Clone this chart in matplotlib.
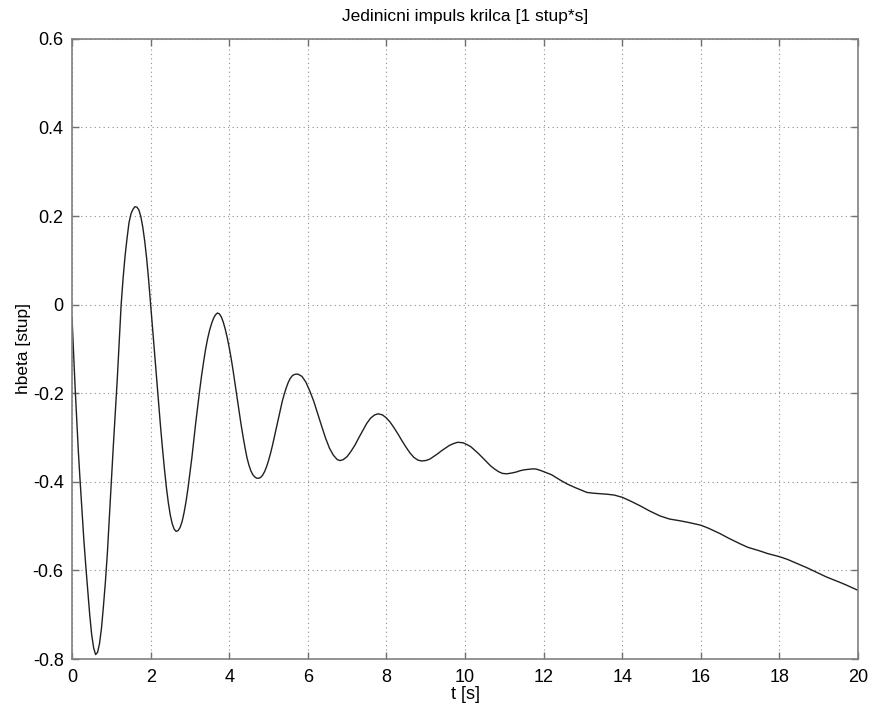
import numpy as np
import matplotlib
matplotlib.use('Agg')
import matplotlib.pyplot as plt

# vrijeme [s] i odziv hbeta [stup], ocitano sa slike
t = [0.00, 0.04, 0.08, 0.12, 0.16, 0.20, 0.25, 0.30, 0.35, 0.40, 0.45, 0.50, 0.55, 0.60, 0.65,
     0.70, 0.75, 0.80, 0.85, 0.90, 0.95, 1.00, 1.05, 1.10, 1.15, 1.20, 1.25, 1.30, 1.35, 1.40,
     1.45, 1.50, 1.55, 1.60, 1.65, 1.70, 1.75, 1.80, 1.85, 1.90, 1.95, 2.00, 2.05, 2.10, 2.15,
     2.20, 2.25, 2.30, 2.35, 2.40, 2.45, 2.50, 2.55, 2.60, 2.65, 2.70, 2.75, 2.80, 2.85, 2.90,
     2.95, 3.00, 3.05, 3.10, 3.15, 3.20, 3.25, 3.30, 3.35, 3.40, 3.45, 3.50, 3.55, 3.60, 3.65,
     3.70, 3.75, 3.80, 3.85, 3.90, 3.95, 4.00, 4.05, 4.10, 4.15, 4.20, 4.25, 4.30, 4.35, 4.40,
     4.45, 4.50, 4.55, 4.60, 4.65, 4.70, 4.75, 4.80, 4.85, 4.90, 4.95, 5.00, 5.05, 5.10, 5.15,
     5.20, 5.25, 5.30, 5.35, 5.40, 5.45, 5.50, 5.55, 5.60, 5.65, 5.70, 5.75, 5.85, 5.95, 6.05,
     6.15, 6.25, 6.35, 6.45, 6.55, 6.65, 6.75, 6.82, 6.90, 7.00, 7.10, 7.20, 7.30, 7.40, 7.50,
     7.60, 7.70, 7.79, 7.90, 8.00, 8.10, 8.20, 8.30, 8.40, 8.50, 8.60, 8.70, 8.80, 8.90, 9.00,
     9.10, 9.20, 9.30, 9.40, 9.50, 9.60, 9.70, 9.80, 9.85, 9.95, 10.05, 10.15, 10.25, 10.35,
     10.45, 10.55, 10.65, 10.75, 10.85, 10.95, 11.06, 11.2, 11.3, 11.4, 11.5, 11.6, 11.7, 11.8,
     11.91, 12.0, 12.2, 12.42, 12.6, 12.8, 13.1, 13.3, 13.61, 13.8, 14.0, 14.2, 14.45, 14.7,
     14.96, 15.2, 15.47, 15.7, 16.0, 16.2, 16.49, 16.7, 17.0, 17.2, 17.5, 17.7, 18.0, 18.2,
     18.52, 18.7, 19.03, 19.2, 19.54, 19.7, 20.0]
hbeta = [-0.030, -0.110, -0.190, -0.260, -0.330, -0.390, -0.460, -0.530, -0.590, -0.645, -0.700,
         -0.745, -0.775, -0.790, -0.785, -0.765, -0.730, -0.680, -0.625, -0.560, -0.480, -0.400,
         -0.320, -0.245, -0.170, -0.085, 0.000, 0.060, 0.110, 0.150, 0.185, 0.205, 0.215, 0.221,
         0.220, 0.214, 0.199, 0.175, 0.143, 0.103, 0.055, 0.000, -0.055, -0.110, -0.165, -0.220,
         -0.273, -0.323, -0.370, -0.412, -0.447, -0.475, -0.495, -0.507, -0.512, -0.510, -0.503,
         -0.490, -0.470, -0.445, -0.415, -0.380, -0.345, -0.305, -0.265, -0.228, -0.192, -0.158,
         -0.128, -0.100, -0.077, -0.058, -0.043, -0.031, -0.023, -0.019, -0.021, -0.028, -0.040,
         -0.056, -0.075, -0.097, -0.122, -0.150, -0.180, -0.210, -0.240, -0.270, -0.297, -0.322,
         -0.345, -0.362, -0.375, -0.384, -0.389, -0.392, -0.392, -0.390, -0.385, -0.377, -0.366,
         -0.352, -0.336, -0.318, -0.298, -0.278, -0.258, -0.238, -0.218, -0.202, -0.188, -0.176,
         -0.167, -0.161, -0.158, -0.157, -0.157, -0.162, -0.175, -0.195, -0.218, -0.246, -0.274,
         -0.301, -0.324, -0.340, -0.350, -0.352, -0.350, -0.343, -0.331, -0.317, -0.300, -0.284,
         -0.268, -0.256, -0.249, -0.2465, -0.249, -0.256, -0.266, -0.279, -0.293, -0.308, -0.322,
         -0.335, -0.345, -0.351, -0.353, -0.352, -0.349, -0.343, -0.337, -0.330, -0.324, -0.318,
         -0.314, -0.311, -0.311, -0.312, -0.316, -0.321, -0.329, -0.337, -0.346, -0.355, -0.364,
         -0.371, -0.377, -0.381, -0.382, -0.380, -0.378, -0.375, -0.373, -0.372, -0.371, -0.371,
         -0.374, -0.377, -0.384, -0.396, -0.405, -0.413, -0.424, -0.426, -0.428, -0.430, -0.435,
         -0.443, -0.454, -0.466, -0.477, -0.484, -0.488, -0.492, -0.498, -0.505, -0.517, -0.527,
         -0.540, -0.548, -0.556, -0.562, -0.569, -0.575, -0.587, -0.594, -0.608, -0.615, -0.627,
         -0.633, -0.645]

xticks = [0, 2, 4, 6, 8, 10, 12, 14, 16, 18, 20]
yticks = [-0.8, -0.6, -0.4, -0.2, 0, 0.2, 0.4, 0.6]
ylabels = ['-0.8', '-0.6', '-0.4', '-0.2', '0', '0.2', '0.4', '0.6']

plt.rcParams['font.family'] = ['Liberation Sans', 'DejaVu Sans']

fig = plt.figure(figsize=(8.72, 7.08), dpi=100)
ax = fig.add_axes([0.0826, 0.0692, 0.9014, 0.876])

ax.plot(t, hbeta, color='#202020', linewidth=1.0)

ax.set_xlim(0, 20)
ax.set_ylim(-0.8, 0.6)
ax.set_xticks(xticks)
ax.set_xticklabels([str(x) for x in xticks])
ax.set_yticks(yticks)
ax.set_yticklabels(ylabels)
ax.grid(True, color='#909090', linestyle=(0, (1, 3)), linewidth=0.8)
ax.tick_params(direction='in', length=5, width=1, color='#707070',
               top=True, right=True, labelsize=13)
ax.tick_params(axis='x', pad=7)
ax.tick_params(axis='y', pad=6)
for s in ax.spines.values():
    s.set_color('#808080')
    s.set_linewidth(1.2)

ax.set_title('Jedinicni impuls krilca [1 stup*s]', fontsize=12.5, pad=13)
ax.set_xlabel('t [s]', fontsize=13, labelpad=0)
ax.set_ylabel('hbeta [stup]', fontsize=12.5, labelpad=1)

fig.savefig('out.png', dpi=100)
